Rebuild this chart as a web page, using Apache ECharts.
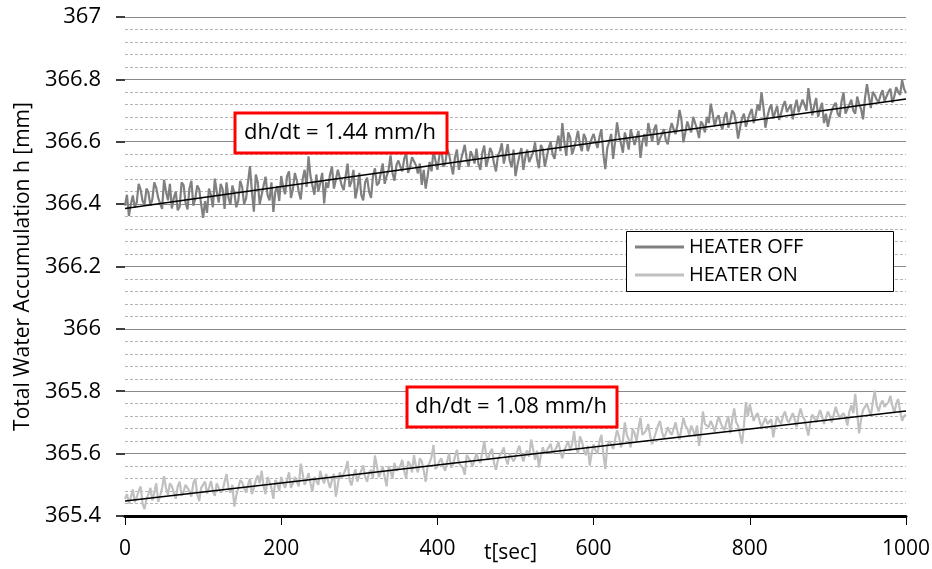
<!DOCTYPE html>
<html>
<head>
<meta charset="utf-8">
<script src="https://cdn.jsdelivr.net/npm/echarts@6/dist/echarts.min.js"></script>
<style>
html,body{margin:0;padding:0;background:#fff;}
#chart{width:932px;height:569px;}
</style>
</head>
<body>
<div id="chart"></div>
<script>
// time axis (seconds): samples at t = 0,5,10,... (A) and t = 2.5,7.5,... (B)
const timeStep = 5;
const timeMax = 1000;
const xTicks = [0, 200, 400, 600, 800, 1000];
const yTicks = [365.4, 365.6, 365.8, 366, 366.2, 366.4, 366.6, 366.8, 367];

const heaterOffA = [
366.395,366.362,366.428,366.405,366.446,366.398,366.437,366.415,366.452,366.402,
366.478,366.412,366.386,366.440,366.392,366.461,366.383,366.475,366.418,366.447,
366.356,366.372,366.430,366.482,366.405,366.448,366.470,366.398,366.436,366.410,
366.455,366.418,366.522,366.376,366.470,366.430,366.488,366.412,366.375,366.458,
366.490,366.432,366.505,366.448,366.476,366.415,366.510,366.553,366.460,366.495,
366.468,366.402,366.452,366.520,366.478,366.505,366.445,366.530,366.472,366.418,
366.500,366.412,366.485,366.420,366.515,366.468,366.530,366.490,366.556,366.475,
366.540,366.505,366.565,366.520,366.548,366.498,366.462,366.450,366.535,366.572,
366.510,366.585,366.530,366.560,366.495,366.575,366.540,366.590,366.520,366.555,
366.578,366.510,366.588,366.545,366.565,366.505,366.570,366.530,366.592,366.518,
366.490,366.555,366.510,366.575,366.535,366.598,366.515,366.575,366.550,366.600,
366.545,366.620,366.660,366.555,366.615,366.580,366.635,366.570,366.610,366.590,
366.625,366.580,366.640,366.512,366.600,366.545,366.662,366.595,366.630,366.575,
366.615,366.585,366.548,366.625,366.660,366.600,366.655,366.610,366.640,366.592,
366.660,366.625,366.702,366.598,366.665,366.630,366.675,366.612,366.655,366.680,
366.722,366.650,366.685,366.640,366.695,366.668,366.690,366.610,366.675,366.648,
366.690,366.660,366.720,366.758,366.645,366.705,366.675,366.715,366.690,366.730,
366.700,366.672,366.735,366.690,366.718,366.772,366.685,366.740,366.705,366.660,
366.648,366.700,366.725,366.680,366.758,366.705,366.735,366.690,366.720,366.672,
366.785,366.708,366.750,366.728,366.765,366.735,366.770,366.745,366.760,366.798,
366.755
];
const heaterOffB = [
366.430,366.400,366.390,366.465,366.410,366.450,366.395,366.470,366.420,366.385,
366.440,366.465,366.420,366.380,366.470,366.405,366.450,366.395,366.460,366.400,
366.410,366.450,366.390,366.440,366.465,366.385,366.420,366.460,366.390,366.475,
366.400,366.470,366.440,366.495,366.400,366.460,366.430,366.470,366.440,366.410,
366.455,366.490,366.420,366.500,366.440,366.480,366.455,366.490,366.430,366.440,
366.500,366.470,366.495,366.450,366.510,366.460,366.490,366.455,366.510,366.450,
366.430,366.470,366.440,366.490,366.460,366.500,366.465,366.510,366.500,366.525,
366.520,366.545,366.500,366.550,366.525,366.530,366.510,366.490,366.505,366.540,
366.555,366.520,366.575,366.525,366.550,366.510,366.565,366.545,366.570,366.530,
366.530,366.565,366.520,366.580,366.530,366.555,366.595,366.560,366.540,366.575,
366.525,366.580,366.550,366.535,366.565,366.545,366.590,366.520,366.580,366.560,
366.590,366.570,366.600,366.630,366.560,366.605,366.590,366.625,366.570,366.610,
366.600,366.615,366.560,366.580,366.625,366.600,366.620,366.565,366.605,366.640,
366.590,366.635,366.600,366.585,366.630,366.640,366.590,366.625,366.605,366.635,
366.640,366.655,366.670,366.630,366.645,366.680,366.640,366.665,366.630,366.660,
366.690,366.675,366.655,366.680,366.645,366.700,366.660,366.645,366.690,366.670,
366.705,366.685,366.700,366.710,366.680,366.720,366.695,366.670,366.715,366.695,
366.720,366.710,366.695,366.735,366.700,366.725,366.715,366.680,366.725,366.690,
366.680,366.715,366.690,366.730,366.690,366.720,366.700,366.745,366.705,366.740,
366.745,366.760,366.735,366.750,366.730,366.760,366.725,366.775,366.750,366.770
];

const heaterOnA = [
365.455,365.440,365.485,365.460,365.495,365.422,365.470,365.450,365.505,365.465,
365.528,365.468,365.495,365.455,365.510,365.478,365.500,365.462,365.520,365.448,
365.495,365.472,365.512,365.465,365.500,365.482,365.535,365.475,365.430,365.490,
365.508,365.475,365.520,365.490,365.530,365.545,365.470,365.510,365.455,365.505,
365.525,365.490,365.540,365.505,365.530,365.568,365.500,365.538,365.478,365.520,
365.545,365.505,365.530,365.515,365.462,365.540,365.520,365.576,365.498,365.550,
365.530,365.562,365.510,365.548,365.594,365.525,365.558,365.495,365.545,365.570,
365.548,365.580,365.520,365.565,365.595,365.540,365.575,365.510,365.570,365.628,
365.560,365.585,365.545,365.600,365.565,365.612,365.575,365.532,365.590,365.560,
365.600,365.570,365.640,365.580,365.615,365.548,365.595,365.620,365.565,365.605,
365.590,365.625,365.575,365.610,365.645,365.580,365.556,365.620,365.595,365.632,
365.600,365.638,365.585,365.625,365.610,365.672,365.600,365.640,365.595,365.562,
365.630,365.600,365.660,365.550,365.640,365.615,365.675,365.620,365.700,365.645,
365.680,365.640,365.715,365.665,365.695,365.630,365.670,365.705,365.650,365.685,
365.660,365.700,365.645,365.715,365.680,365.690,365.655,365.625,365.735,365.700,
365.705,365.670,365.720,365.685,365.700,365.665,365.745,365.690,365.632,365.765,
365.758,365.705,365.730,365.685,365.715,365.690,365.652,365.720,365.695,365.735,
365.700,365.730,365.685,365.745,365.710,365.658,365.725,365.700,365.740,365.695,
365.735,365.700,365.750,365.715,365.730,365.690,365.755,365.792,365.665,365.740,
365.760,365.720,365.802,365.735,365.770,365.745,365.785,365.730,365.775,365.705,
365.725
];
const heaterOnB = [
365.470,365.460,365.445,365.480,365.440,365.455,365.490,365.475,365.445,365.490,
365.490,365.505,365.475,365.495,365.465,365.500,365.480,365.505,365.470,365.490,
365.510,365.490,365.480,365.505,365.475,365.510,365.490,365.500,365.465,365.515,
365.490,365.500,365.470,365.515,365.505,365.495,365.525,365.490,365.515,365.480,
365.505,365.515,365.490,365.525,365.495,365.535,365.515,365.505,365.525,365.500,
365.520,365.535,365.490,365.535,365.500,365.520,365.550,365.515,365.530,365.510,
365.545,365.525,365.540,365.520,365.560,365.540,365.525,365.560,365.520,365.545,
365.560,365.545,365.575,365.540,365.560,365.585,365.545,365.560,365.590,365.550,
365.575,365.560,365.575,365.555,365.590,365.570,365.555,365.595,365.575,365.580,
365.580,365.605,365.595,365.605,365.570,365.580,365.605,365.585,365.600,365.575,
365.610,365.595,365.600,365.590,365.615,365.610,365.595,365.600,365.620,365.600,
365.620,365.605,365.610,365.640,365.630,365.620,365.655,365.610,365.625,365.600,
365.610,365.640,365.600,365.625,365.630,365.645,365.655,365.640,365.660,365.620,
365.665,365.680,365.660,365.675,365.655,365.650,365.690,365.670,365.665,365.670,
365.680,365.670,365.680,365.690,365.660,365.675,365.690,365.665,365.695,365.685,
365.690,365.695,365.700,365.675,365.720,365.710,365.700,365.660,365.690,365.720,
365.730,365.720,365.705,365.700,365.695,365.710,365.690,365.705,365.720,365.710,
365.715,365.710,365.720,365.720,365.685,365.700,365.715,365.720,365.720,365.715,
365.720,365.725,365.730,365.720,365.715,365.735,365.730,365.730,365.710,365.750,
365.740,365.765,365.755,365.760,365.750,365.765,365.755,365.760,365.735,365.720
];

// linear fits: [t, h] at start and end
const fitOff = [[0, 366.386], [1000, 366.737]];
const fitOn = [[0, 365.448], [1000, 365.737]];

const annotOff = 'dh/dt = 1.44 mm/h';
const annotOn = 'dh/dt = 1.08 mm/h';

const FONT = '"Open Sans", "DejaVu Sans", sans-serif';

function merge(a, b) {
  const out = [];
  for (let i = 0; i < a.length; i++) {
    out.push([i * timeStep, a[i]]);
    if (i < b.length) out.push([i * timeStep + timeStep / 2, b[i]]);
  }
  return out;
}

const chart = echarts.init(document.getElementById('chart'), null, {renderer: 'canvas'});

chart.setOption({
  animation: false,
  backgroundColor: '#ffffff',
  grid: {left: 125, right: 26, top: 17, bottom: 53, containLabel: false, outerBoundsMode: 'none'},
  xAxis: {
    type: 'value',
    min: 0, max: timeMax, interval: 200,
    name: 't[sec]',
    nameLocation: 'middle',
    nameGap: 27,
    nameMoveOverlap: false,
    nameTextStyle: {fontFamily: FONT, fontSize: 21, color: '#000', padding: [0, 0, 0, -10]},
    axisLine: {show: true, lineStyle: {color: '#000', width: 3}},
    axisTick: {show: true, length: 9, lineStyle: {color: '#000', width: 1}},
    axisLabel: {fontFamily: FONT, fontSize: 21, color: '#000', margin: 23, formatter: v => String(v)},
    splitLine: {show: false}
  },
  yAxis: {
    type: 'value',
    min: yTicks[0], max: yTicks[yTicks.length - 1], interval: 0.2,
    name: 'Total Water Accumulation h [mm]',
    nameLocation: 'middle',
    nameRotate: 90,
    nameGap: 91,
    nameMoveOverlap: false,
    nameTextStyle: {fontFamily: FONT, fontSize: 21, color: '#000'},
    axisLine: {show: false},
    axisTick: {show: true, length: 9, lineStyle: {color: '#000', width: 1.5}},
    axisLabel: {
      fontFamily: FONT, fontSize: 22, color: '#000', margin: 24,
      formatter: v => String(+v.toFixed(1))
    },
    splitLine: {show: true, lineStyle: {color: '#8a8a8a', width: 1.2}},
    minorTick: {show: false, splitNumber: 5},
    minorSplitLine: {show: true, lineStyle: {color: '#b4b4b4', width: 1, type: [3, 2]}}
  },
  legend: {
    orient: 'vertical',
    left: 630, top: 232, z: 30,
    itemWidth: 49, itemHeight: 3, itemGap: 8,
    icon: 'rect',
    textStyle: {fontFamily: FONT, fontSize: 20, color: '#000'},
    data: ['HEATER OFF', 'HEATER ON']
  },
  series: [
    {
      name: 'HEATER OFF', type: 'line', data: merge(heaterOffA, heaterOffB),
      showSymbol: false, symbol: 'none',
      lineStyle: {color: '#808080', width: 2.2}, itemStyle: {color: '#808080'}, z: 2
    },
    {
      name: 'HEATER ON', type: 'line', data: merge(heaterOnA, heaterOnB),
      showSymbol: false, symbol: 'none',
      lineStyle: {color: '#c0c0c0', width: 2.2}, itemStyle: {color: '#c0c0c0'}, z: 2
    },
    {
      name: 'fitOff', type: 'line', data: fitOff, symbol: 'none', silent: true,
      lineStyle: {color: '#000', width: 1.5}, z: 3
    },
    {
      name: 'fitOn', type: 'line', data: fitOn, symbol: 'none', silent: true,
      lineStyle: {color: '#000', width: 1.5}, z: 3
    }
  ],
  graphic: [
    {
      type: 'rect', z: 5,
      shape: {x: 626.5, y: 231.5, width: 267, height: 60},
      style: {fill: '#fff', stroke: '#000', lineWidth: 1}
    },
    {
      type: 'rect', z: 20,
      shape: {x: 235, y: 113, width: 212, height: 40},
      style: {fill: '#fff', stroke: '#ff0000', lineWidth: 3}
    },
    {
      type: 'text', z: 21,
      style: {text: annotOff, fontFamily: FONT, fontSize: 22, fill: '#000', align: 'center', verticalAlign: 'middle', x: 340, y: 133}
    },
    {
      type: 'rect', z: 20,
      shape: {x: 407, y: 387, width: 210, height: 40},
      style: {fill: '#fff', stroke: '#ff0000', lineWidth: 3}
    },
    {
      type: 'text', z: 21,
      style: {text: annotOn, fontFamily: FONT, fontSize: 22, fill: '#000', align: 'center', verticalAlign: 'middle', x: 511, y: 407}
    }
  ]
});
</script>
</body>
</html>
